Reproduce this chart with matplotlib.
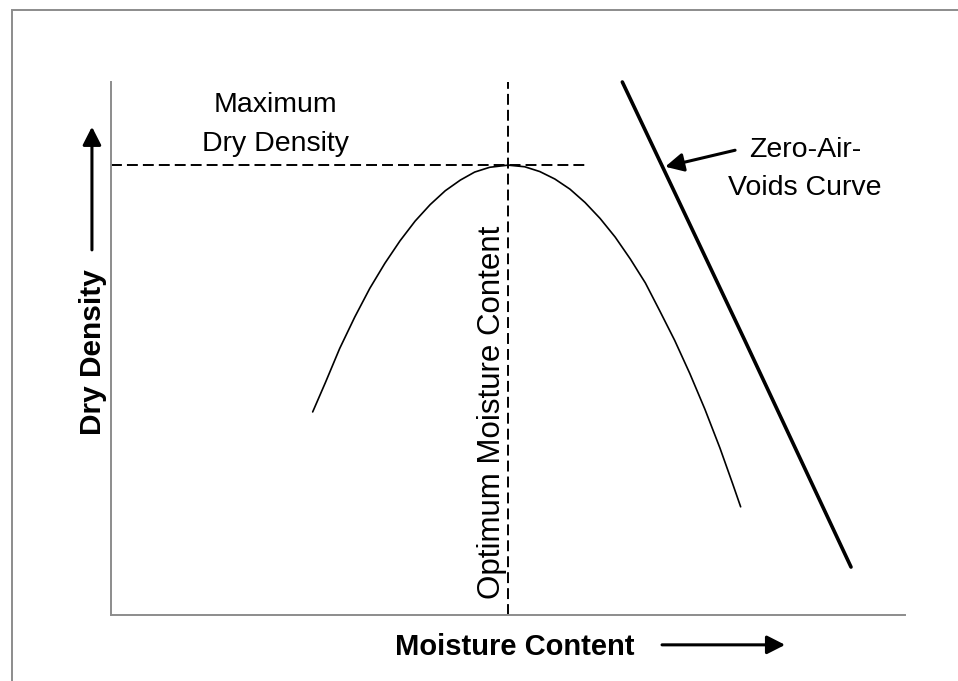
import matplotlib
matplotlib.use('Agg')
import matplotlib.pyplot as plt
from matplotlib.patches import Rectangle

plt.rcParams['font.family'] = 'Liberation Sans'

# compaction curve (axis units 0-100, no scale given)
moisture = [25.4, 27.0, 28.8, 30.7, 32.6, 34.5, 36.4, 38.3, 40.2, 42.1,
            44.0, 45.8, 47.7, 50.0, 52.1, 54.0, 55.9, 57.8, 59.7, 61.6,
            63.5, 65.4, 67.3, 69.1, 71.0, 72.9, 74.8, 76.7, 78.3, 79.3]
density = [38.1, 43.6, 50.0, 55.9, 61.3, 66.0, 70.2, 73.9, 77.0, 79.6,
           81.6, 83.1, 84.0, 84.4, 84.1, 83.2, 81.8, 79.9, 77.4, 74.4,
           70.9, 66.8, 62.3, 57.1, 51.5, 45.3, 38.6, 31.3, 24.6, 20.3]

# zero-air-voids curve
zav_moisture = [64.4, 79.8, 93.2]
zav_density = [100.0, 51.6, 9.0]

# optimum point
opt_moisture = 50.0
max_density = 84.4
max_line_end = 60.1

fig = plt.figure(figsize=(9.58, 6.81), dpi=100)
ax = fig.add_axes([111 / 958, 1 - 615 / 681, 794 / 958, 533 / 681])
ax.set_xlim(0, 100)
ax.set_ylim(0, 100)

# outer frame
fig.patches.append(Rectangle((12 / 958, -0.05), 1.1, 1 - 10 / 681 + 0.05,
                             transform=fig.transFigure, fill=False,
                             edgecolor='#8c8c8c', lw=1.4))

for side in ['top', 'right']:
    ax.spines[side].set_visible(False)
for side in ['left', 'bottom']:
    ax.spines[side].set_color('#8c8c8c')
    ax.spines[side].set_linewidth(1.4)
ax.set_xticks([])
ax.set_yticks([])

ax.plot(moisture, density, color='black', lw=1.2, solid_capstyle='round',
        solid_joinstyle='round')
ax.plot(zav_moisture, zav_density, color='black', lw=2.6,
        solid_capstyle='round', clip_on=False)

dash = (0, (5.6, 2.6))
ax.plot([0, max_line_end], [max_density, max_density], color='black',
        lw=1.4, linestyle=dash)
ax.plot([opt_moisture, opt_moisture], [0, 100], color='black',
        lw=1.4, linestyle=dash)

ax.text(20.7, 85.9, 'Maximum\nDry Density', ha='center', va='bottom',
        fontsize=20.5, linespacing=1.65)
ax.text(87.4, 77.7, 'Zero-Air-\nVoids Curve', ha='center', va='bottom',
        fontsize=20.5, linespacing=1.6)
ax.text(48.0, 38.1, 'Optimum Moisture Content', rotation=90,
        ha='center', va='center', fontsize=22.5)

head = dict(arrowstyle='-|>,head_length=0.55,head_width=0.28', lw=2.2,
            color='black', mutation_scale=20, shrinkA=0, shrinkB=0)
ax.annotate('', xy=(69.8, 84.1), xytext=(78.6, 87.2), arrowprops=head)

# axis labels with their arrows
ax.text(-2.3, 49.3, 'Dry Density', rotation=90, ha='center', va='center',
        fontsize=21.5, fontweight='bold', clip_on=False)
ax.annotate('', xy=(-2.4, 91.6), xytext=(-2.4, 68.5), arrowprops=head,
            annotation_clip=False)
ax.text(50.8, -7.5, 'Moisture Content', ha='center', va='baseline',
        fontsize=21, fontweight='bold', clip_on=False)
ax.annotate('', xy=(84.9, -5.6), xytext=(69.4, -5.6), arrowprops=head,
            annotation_clip=False)

fig.savefig('out.png', dpi=100)
